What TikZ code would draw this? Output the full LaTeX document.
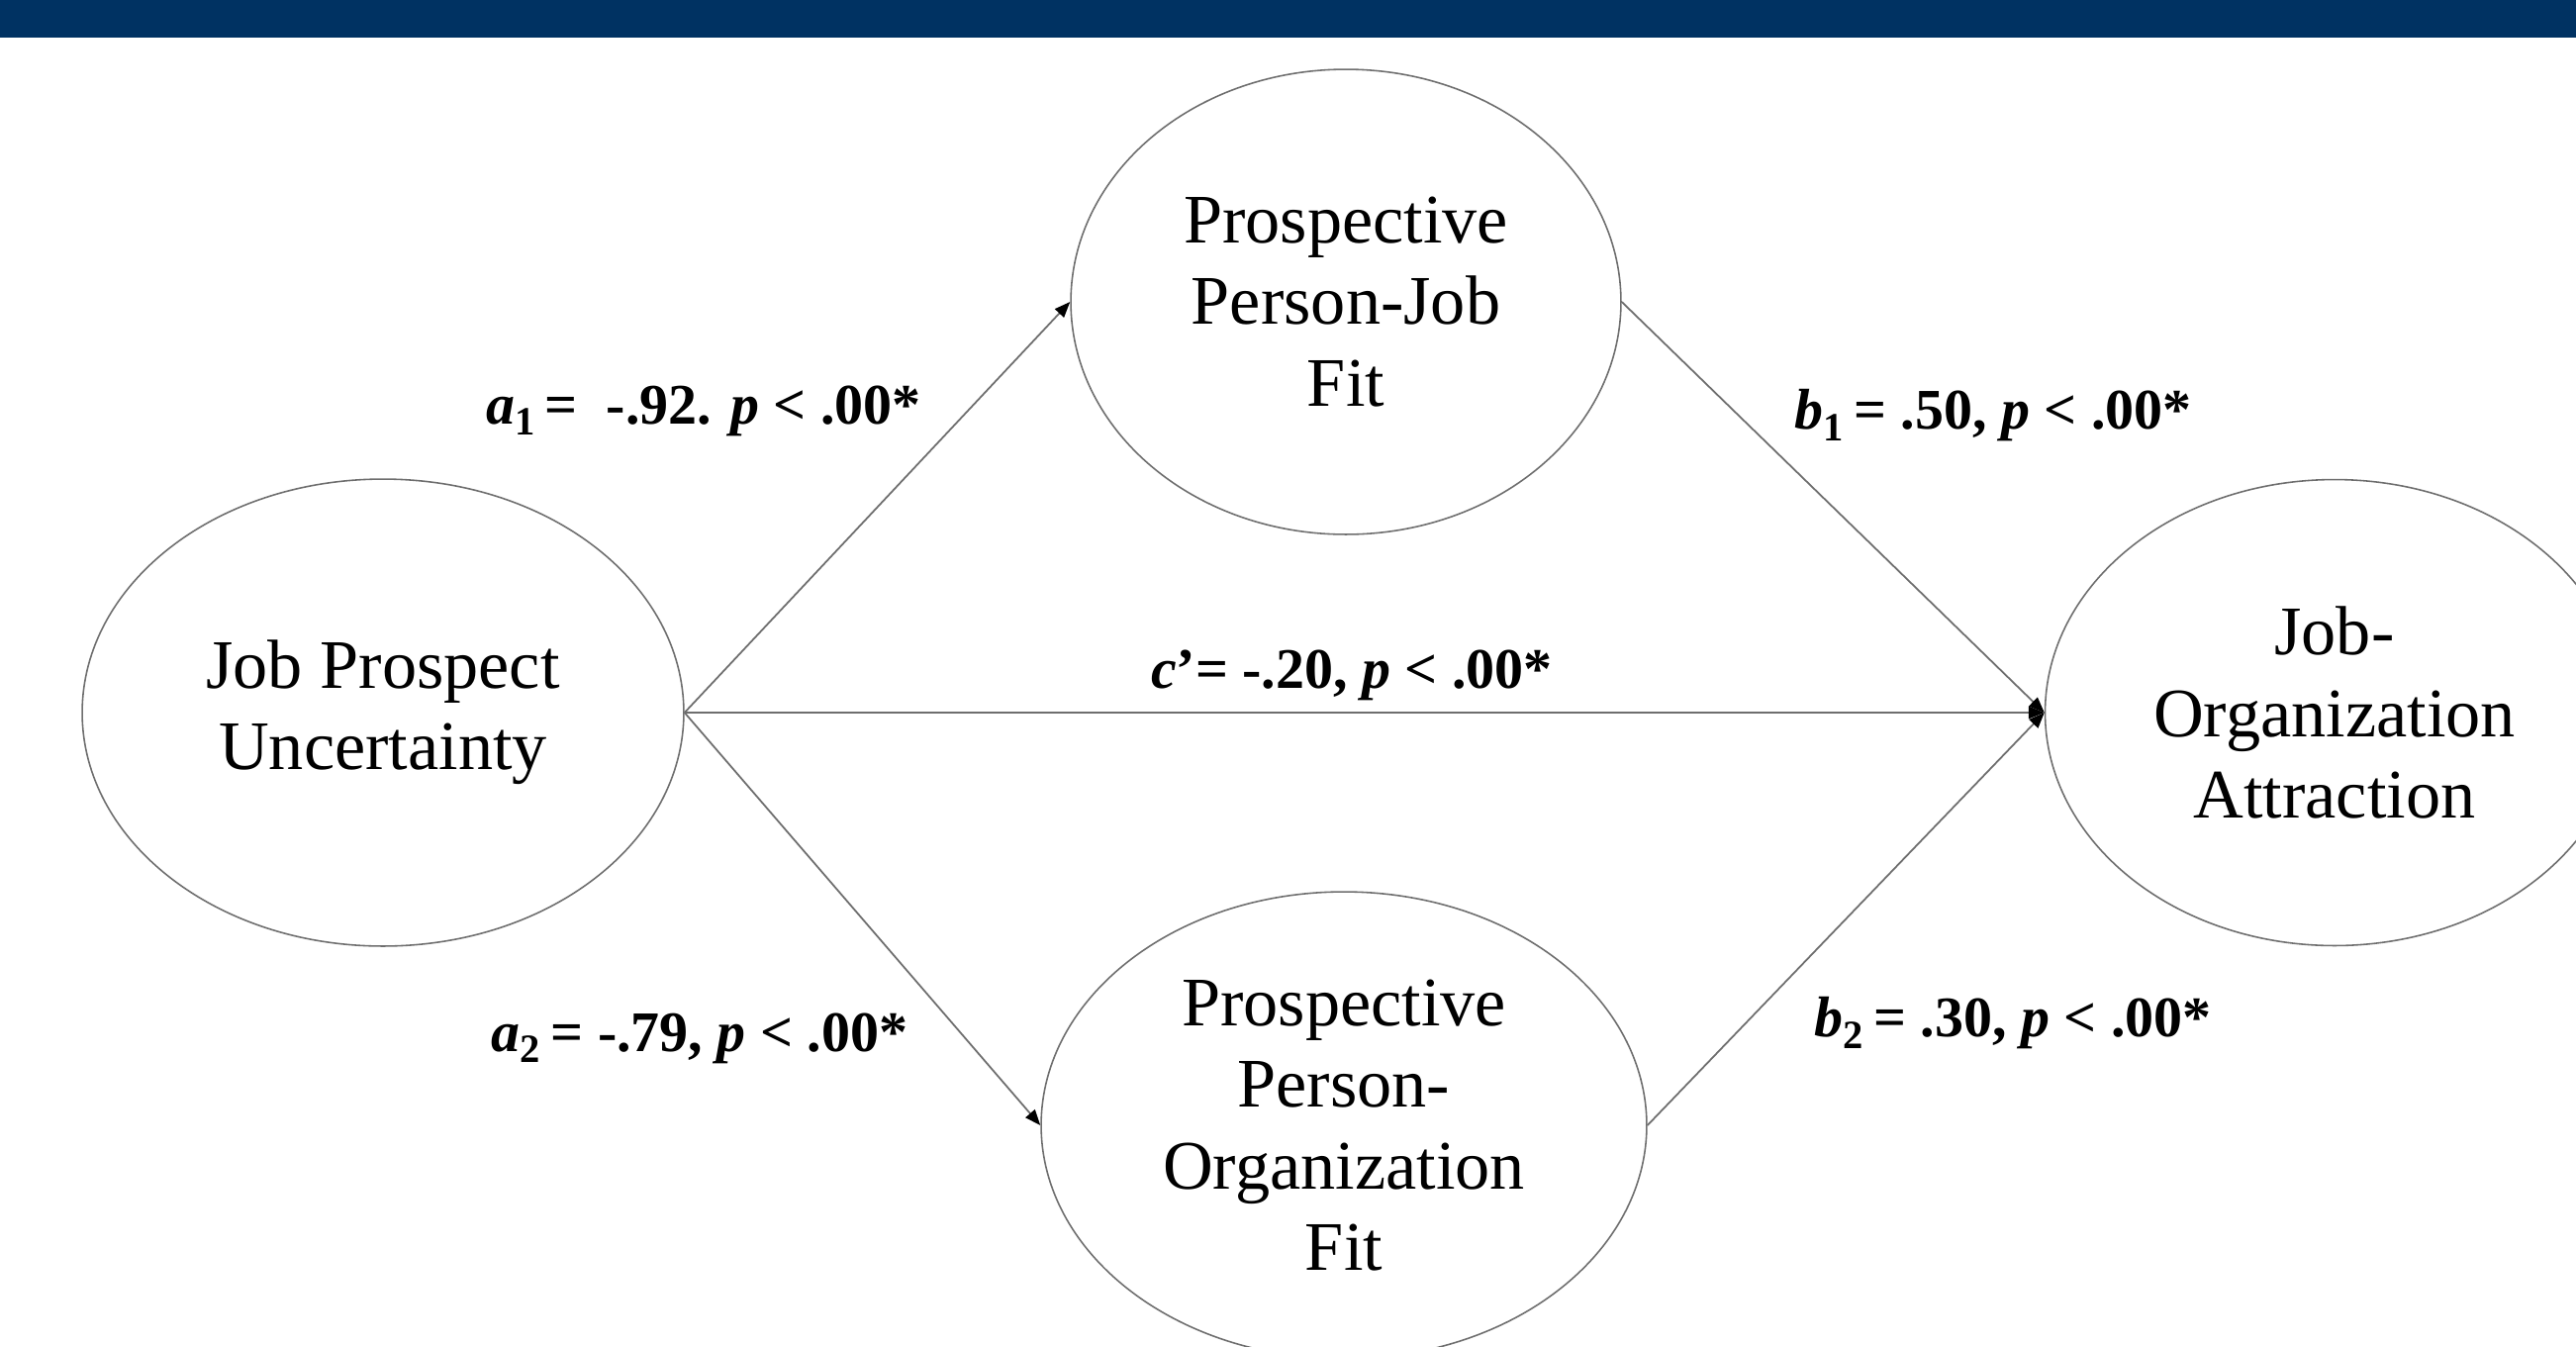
\documentclass[tikz,border=0pt]{standalone}
\usepackage{fontspec}
\setmainfont{Liberation Serif}
\usetikzlibrary{arrows.meta,shapes.geometric}
\definecolor{hdr}{RGB}{0,50,98}
\definecolor{edge}{RGB}{110,110,110}
\begin{document}
\begin{tikzpicture}[x=0.02cm,y=-0.02cm,
  var/.style={draw=edge, line width=0.9pt, ellipse, inner sep=0pt, align=center,
    font=\fontsize{40}{47}\selectfont},
  path/.style={draw=edge, line width=1pt, -{Triangle[length=9pt,width=7pt,black]}},
  coef/.style={font=\fontsize{33}{40}\selectfont\bfseries, inner sep=0pt}]
\useasboundingbox (0,0) rectangle (2603,1360);
\clip (0,0) rectangle (2603,1360);
\fill[hdr] (0,0) rectangle (2603,38);

% constructs
\node[var, minimum width=12.16cm, minimum height=9.44cm] (jpu) at (387,720)
  {\raisebox{-0.2cm}{\begin{tabular}{@{}c@{}}Job Prospect\\Uncertainty\end{tabular}}};
\node[var, minimum width=11.12cm, minimum height=9.4cm] (pj) at (1360,305)
  {Prospective\\Person-Job\\Fit};
\node[var, minimum width=12.24cm, minimum height=9.44cm] (po) at (1358,1137)
  {Prospective\\Person-\\Organization\\Fit};
\node[var, minimum width=11.7cm, minimum height=9.42cm] (joa) at (2359,720)
  {Job-\\Organization\\Attraction};

% paths
\draw[path] (jpu.east) -- (pj.west);
\draw[path] (jpu.east) -- (po.west);
\draw[path] (jpu.east) -- (joa.west);
\draw[path] (pj.east) -- (joa.west);
\draw[path] (po.east) -- (joa.west);

% coefficients
\node[coef] (la1) at (711,415) {\textit{a}\textsubscript{1}\,=~~-.92. \textit{p} < .00*};
\node[coef] (la2) at (707,1049) {\textit{a}\textsubscript{2}\,= -.79, \textit{p} < .00*};
\node[coef] (lb1) at (2014,420) {\textit{b}\textsubscript{1}\,= .50, \textit{p} < .00*};
\node[coef] (lb2) at (2034,1034) {\textit{b}\textsubscript{2}\,= .30, \textit{p} < .00*};
\node[coef] (lc) at (1366,682) {\textit{c}’= -.20, \textit{p} < .00*};
\end{tikzpicture}
\end{document}
